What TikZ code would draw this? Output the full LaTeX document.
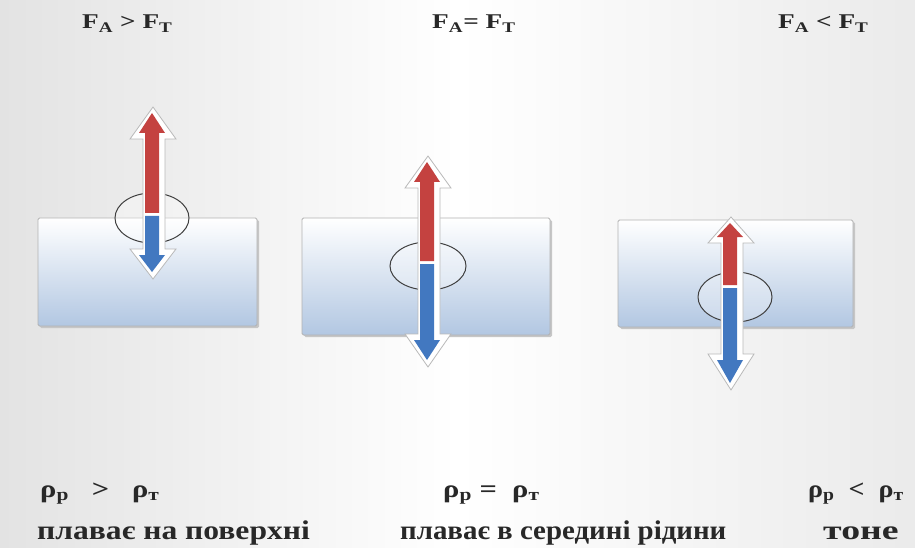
\documentclass[tikz,border=0pt]{standalone}
\usepackage{fontspec}
\setmainfont{Liberation Serif}
\definecolor{fred}{RGB}{196,66,64}
\definecolor{fblue}{RGB}{66,120,192}
\definecolor{boxbot}{RGB}{178,199,226}
\definecolor{txt}{RGB}{40,40,40}
\newcommand\ForceArrow[6]{%
  \fill[white,draw=gray!55,line width=0.8pt,line join=miter]
    ({#1+1},{#2+6}) -- ({#1+24},{#3-6}) -- ({#1+13},{#3-6}) -- ({#1+13},{#5+6})
    -- ({#1+24},{#5+6}) -- ({#1+1},{#6-7}) -- ({#1-22},{#5+6}) -- ({#1-9},{#5+6})
    -- ({#1-9},{#3-6}) -- ({#1-22},{#3-6}) -- cycle;
  \fill[fred] (#1,#2) -- ({#1+13},#3) -- ({#1+7},#3) -- ({#1+7},#4) -- ({#1-7},#4)
    -- ({#1-7},#3) -- ({#1-13},#3) -- cycle;
  \fill[fblue] ({#1-7},{#4-3}) -- ({#1+7},{#4-3}) -- ({#1+7},#5) -- ({#1+13},#5)
    -- (#1,#6) -- ({#1-13},#5) -- ({#1-7},#5) -- cycle;
}
\begin{document}
\begin{tikzpicture}[x=1pt,y=1pt,
  liquid/.style={top color=white,bottom color=boxbot,draw=gray!60,line width=0.8pt,rounded corners=1.5pt},
  liqshadow/.style={fill=gray!45,rounded corners=1.5pt},
  body/.style={draw=black!75,line width=1pt,fill=white,fill opacity=0.3},
  toplbl/.style={text=txt,font=\bfseries\fontsize{21}{24}\selectfont,inner sep=0pt},
  rholbl/.style={text=txt,font=\bfseries\fontsize{25}{27}\selectfont,inner sep=0pt},
  wordlbl/.style={text=txt,font=\bfseries\fontsize{27}{29}\selectfont,inner sep=0pt}]
\useasboundingbox (0,0) rectangle (915,547);
\shade[left color=gray!22,right color=gray!16,middle color=white] (0,0) rectangle (915,547);

% panel 1
\fill[liqshadow] (40,219) rectangle (259,327);
\shade[liquid] (38,221) rectangle (257,329);
\draw[body] (152,329) ellipse [x radius=37,y radius=25];
\ForceArrow{152}{434}{414}{334}{292}{275}

% panel 2
\fill[liqshadow] (304,210) rectangle (552,327);
\shade[liquid] (302,212) rectangle (550,329);
\draw[body] (428,281) ellipse [x radius=38,y radius=24];
\ForceArrow{427}{385}{365}{286}{207}{187}

% panel 3
\fill[liqshadow] (620,218) rectangle (855,325);
\shade[liquid] (618,220) rectangle (853,327);
\draw[body] (735,250) ellipse [x radius=37,y radius=25];
\ForceArrow{730}{324}{310}{262}{187}{164}

% labels
\node[toplbl,anchor=base west] (fa1) at (82,518) {\scalebox{1.3}[1]{F\textsubscript{A} > F\textsubscript{T}}};
\node[toplbl,anchor=base west] (fa2) at (432,518) {\scalebox{1.3}[1]{F\textsubscript{A}= F\textsubscript{T}}};
\node[toplbl,anchor=base west] (fa3) at (778,518) {\scalebox{1.3}[1]{F\textsubscript{A} < F\textsubscript{T}}};

\node[rholbl,anchor=base west] (r1) at (40,50) {\scalebox{1.22}[1]{ρ\textsubscript{р}\ \ \ >\ \ \ ρ\textsubscript{т}}};
\node[rholbl,anchor=base west] (r2) at (443,50) {\scalebox{1.22}[1]{ρ\textsubscript{р} =\ \ ρ\textsubscript{т}}};
\node[rholbl,anchor=base west] (r3) at (808,50) {\scalebox{1.12}[1]{ρ\textsubscript{р}\ \ <\ \ ρ\textsubscript{т}}};

\node[wordlbl,anchor=base west] (w1) at (37,8) {\scalebox{1.17}[1]{плаває на поверхні}};
\node[wordlbl,anchor=base west] (w2) at (400,8) {\scalebox{1.07}[1]{плаває в середині рідини}};
\node[wordlbl,anchor=base west] (w3) at (823,8) {\scalebox{1.4}[1]{тоне}};
\end{tikzpicture}
\end{document}
